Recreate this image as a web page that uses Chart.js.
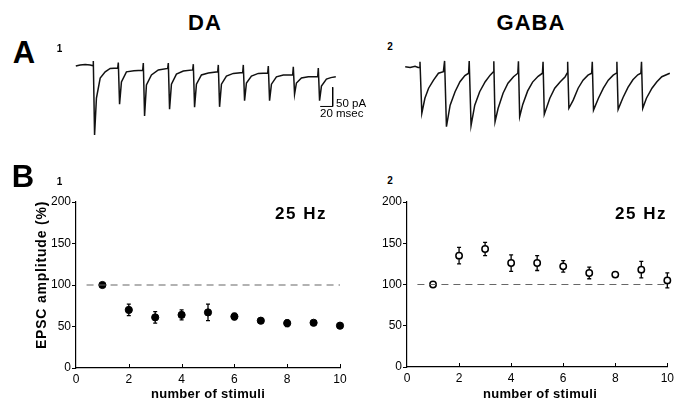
<!DOCTYPE html>
<html>
<head>
<meta charset="utf-8">
<script src="https://cdn.jsdelivr.net/npm/chart.js@4.4.0/dist/chart.umd.min.js"></script>
<style>
  html, body { margin:0; padding:0; background:#fff; }
  #wrap { position:relative; width:678px; height:405px; overflow:hidden; background:#fff;
          font-family:'Liberation Sans', Arial, Helvetica, sans-serif; color:#000; }
  canvas { position:absolute; }
  .t { position:absolute; white-space:nowrap; transform:translate(-50%,-50%); line-height:1; }
  .l { position:absolute; white-space:nowrap; transform:translate(0,-50%); line-height:1; }
</style>
</head>
<body>
<div id="wrap">
  <canvas id="ta" width="280" height="95" style="left:70px;top:50px;"></canvas>
  <canvas id="tg" width="283" height="95" style="left:395px;top:50px;"></canvas>
  <canvas id="b1" width="360" height="215" style="left:0px;top:190px;"></canvas>
  <canvas id="b2" width="318" height="215" style="left:360px;top:190px;"></canvas>

  <div class="t" style="left:205px;top:23px;font-size:22px;font-weight:bold;letter-spacing:1px;">DA</div>
  <div class="t" style="left:531px;top:23px;font-size:22px;font-weight:bold;letter-spacing:1px;">GABA</div>
  <div class="t" style="left:24px;top:52px;font-size:31px;font-weight:bold;">A</div>
  <div class="t" style="left:23px;top:176px;font-size:31px;font-weight:bold;">B</div>
  <div class="t" style="left:59.5px;top:49px;font-size:10px;font-weight:bold;">1</div>
  <div class="t" style="left:390px;top:47px;font-size:10px;font-weight:bold;">2</div>
  <div class="t" style="left:59.5px;top:182px;font-size:10px;font-weight:bold;">1</div>
  <div class="t" style="left:390px;top:181px;font-size:10px;font-weight:bold;">2</div>
  <div class="l" style="left:336px;top:104px;font-size:11.5px;">50 pA</div>
  <div class="l" style="left:320px;top:114px;font-size:11.5px;">20 msec</div>
  <div class="l" style="left:275px;top:213px;font-size:17px;font-weight:bold;letter-spacing:1.5px;">25 Hz</div>
  <div class="l" style="left:615px;top:213px;font-size:17px;font-weight:bold;letter-spacing:1.5px;">25 Hz</div>
  <div class="t" style="left:41px;top:275px;font-size:14px;font-weight:bold;letter-spacing:0.8px;transform:translate(-50%,-50%) rotate(-90deg);">EPSC amplitude (%)</div>
  <div class="t" style="left:208px;top:393px;font-size:13px;font-weight:bold;letter-spacing:0.3px;">number of stimuli</div>
  <div class="t" style="left:540px;top:393px;font-size:13px;font-weight:bold;letter-spacing:0.3px;">number of stimuli</div>
</div>
<script>
// ---------- Panel B data ----------
const stimuli  = [1, 2, 3, 4, 5, 6, 7, 8, 9, 10];
const daMean   = [100, 70, 61, 64, 67, 62, 57, 54, 54.5, 51];
const daErr    = [1, 7, 7, 6, 10, 4, 2, 4, 1, 1];
const gabaMean = [100, 135, 143, 126, 126, 122, 114, 112, 118, 105];
const gabaErr  = [1, 10, 8, 10, 9, 7, 7, 2, 10, 9];
const xTicks   = [0, 2, 4, 6, 8, 10];
const yTicks   = [0, 50, 100, 150, 200];
const refLevel = 100;

// ---------- Panel A traces (time ms, current pA) ----------
const daT = [-28,-21,-13,-5,-0.5,
  0,2,5,11,19,27,39,
  40,42,45,53,65,79,
  80,82,85,93,104,119,
  120,122,125,133,144,159,
  160,162,165,173,184,199,
  200,202,205,213,224,239,
  240,242,245,253,264,279,
  280,282,285,293,304,319,
  320,322,325,333,344,359,
  360,362,365,373,380,388];
const daI = [-1,2,3,2,0,
  12,-180,-84,-32,-16,-7,-6,
  8,-100,-42,-16,-13,-12,
  7,-131,-50,-24,-11,-7,
  7,-113,-48,-22,-14,-11,
  4,-108,-48,-24,-19,-16,
  2,-107,-48,-27,-20,-18,
  2,-91,-45,-27,-20,-19,
  -1,-91,-48,-29,-24,-24,
  -3,-74,-45,-32,-29,-29,
  -6,-91,-53,-35,-31,-29];
const gabaT = [-24,-16,-8,-3,-0.5,
  0,3,8,14,22,30,38,
  40,43,49,57,65,73,79,
  80,83,89,97,106,114,119,
  120,122,127,135,143,152,159,
  160,162,167,175,183,192,199,
  200,202,211,219,228,236,239,
  240,242,249,257,265,273,279,
  280,282,290,298,306,314,319,
  320,322,330,338,346,354,359,
  360,362,368,377,385,393,406];
const gabaI = [0,-2,1,-2,-2,
  13,-121,-82,-56,-35,-17,-13,
  15,-156,-100,-65,-39,-23,-17,
  15,-153,-100,-65,-39,-22,-14,
  14,-143,-108,-69,-43,-26,-17,
  14,-130,-98,-63,-40,-25,-17,
  13,-124,-82,-56,-39,-26,-17,
  13,-108,-87,-56,-35,-22,-17,
  13,-113,-82,-56,-35,-22,-17,
  13,-111,-80,-54,-34,-21,-17,
  13,-108,-82,-56,-39,-26,-17];
// scale bar: 50 pA, 20 ms
const barT = [383, 383, 363];
const barI = [-56, -106, -106];

Chart.defaults.font.family = "'Liberation Sans', Arial, Helvetica, sans-serif";
Chart.defaults.color = '#000';

function pts(xs, ys) { return xs.map((x, i) => ({ x: x, y: ys[i] })); }

function traceChart(id, t, I, xmin, xmax, ymin, ymax, extra) {
  const ds = [{
    data: pts(t, I), borderColor: '#111', borderWidth: 1.5, pointRadius: 0,
    tension: 0, fill: false, clip: false
  }];
  if (extra) ds.push(extra);
  new Chart(document.getElementById(id), {
    type: 'line',
    data: { datasets: ds },
    options: {
      responsive: false, animation: false, parsing: true,
      layout: { padding: 0 },
      plugins: { legend: { display: false }, tooltip: { enabled: false } },
      scales: {
        x: { type: 'linear', display: false, min: xmin, max: xmax },
        y: { type: 'linear', display: false, min: ymin, max: ymax }
      }
    }
  });
}

traceChart('ta', daT, daI, -37.3, 410.7, -206.2, 40.8, {
  data: pts(barT, barI), borderColor: '#000', borderWidth: 1, pointRadius: 0, tension: 0, clip: false
});
traceChart('tg', gabaT, gabaI, -40.6, 419.3, -203.6, 43.4, null);

const errPlugin = {
  id: 'err',
  beforeDatasetsDraw(chart) {
    const ctx = chart.ctx, xs = chart.scales.x, ys = chart.scales.y;
    chart.data.datasets.forEach(ds => {
      if (!ds.errors) return;
      ctx.save();
      ctx.strokeStyle = '#000'; ctx.lineWidth = 1.3;
      ds.data.forEach((p, i) => {
        const e = ds.errors[i];
        const px = xs.getPixelForValue(p.x);
        const y1 = ys.getPixelForValue(p.y + e), y2 = ys.getPixelForValue(p.y - e);
        ctx.beginPath();
        ctx.moveTo(px, y1); ctx.lineTo(px, y2);
        ctx.moveTo(px - 2, y1); ctx.lineTo(px + 2, y1);
        ctx.moveTo(px - 2, y2); ctx.lineTo(px + 2, y2);
        ctx.stroke();
      });
      ctx.restore();
    });
  },
  afterDraw(chart) {
    const ctx = chart.ctx, xs = chart.scales.x, b = chart.chartArea.bottom;
    ctx.save();
    ctx.strokeStyle = '#000'; ctx.lineWidth = 1;
    xTicks.forEach(v => {
      if (v === 0) return;
      const px = Math.round(xs.getPixelForValue(v)) + 0.5;
      ctx.beginPath(); ctx.moveTo(px, b); ctx.lineTo(px, b - 4); ctx.stroke();
    });
    ctx.restore();
  }
};

function panel(id, mean, err, filled, yWidth, padRight, xHeight) {
  new Chart(document.getElementById(id), {
    type: 'scatter',
    data: {
      datasets: [
        { type: 'line', data: [{ x: 0.4, y: refLevel }, { x: 10, y: refLevel }],
          borderColor: '#666', borderWidth: 1.1, borderDash: [7, 5], pointRadius: 0 },
        { data: pts(stimuli, mean), errors: err,
          pointRadius: filled ? 3.6 : 3.2, pointBorderWidth: filled ? 1 : 1.5,
          backgroundColor: filled ? '#000' : '#fff', borderColor: '#000', clip: false }
      ]
    },
    options: {
      responsive: false, animation: false,
      layout: { padding: { left: 0, top: 12, right: padRight, bottom: 0 } },
      plugins: { legend: { display: false }, tooltip: { enabled: false } },
      scales: {
        x: { type: 'linear', min: 0, max: 10,
             afterBuildTicks(s) { s.ticks = xTicks.map(v => ({ value: v })); },
             ticks: { font: { size: 12 }, color: '#000', padding: 4, maxRotation: 0 },
             grid: { drawOnChartArea: false, drawTicks: false },
             border: { color: '#000', width: 1.2 },
             afterFit(s) { s.height = xHeight; } },
        y: { type: 'linear', min: 0, max: 200,
             afterBuildTicks(s) { s.ticks = yTicks.map(v => ({ value: v })); },
             ticks: { font: { size: 12 }, color: '#000', padding: 1 },
             grid: { drawOnChartArea: false, drawTicks: true, tickLength: 4, color: '#000' },
             border: { color: '#000', width: 1.2 },
             afterFit(s) { s.width = yWidth; } }
      }
    },
    plugins: [errPlugin]
  });
}

panel('b1', daMean, daErr, true, 76, 20, 37);
panel('b2', gabaMean, gabaErr, false, 47, 8, 38);
</script>
</body>
</html>
